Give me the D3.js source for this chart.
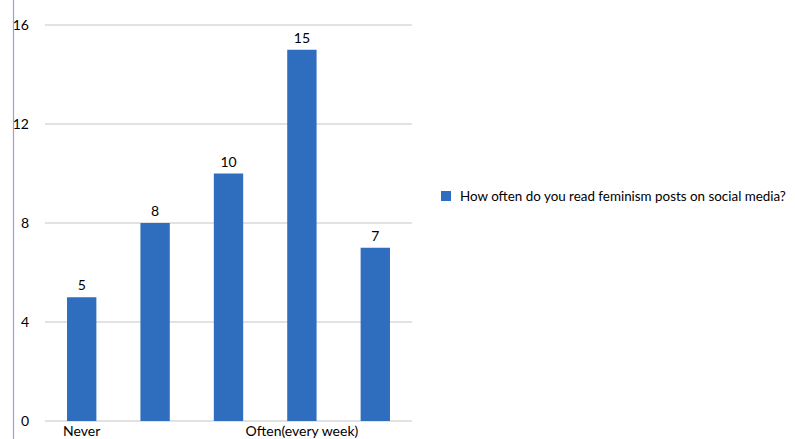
<!DOCTYPE html>
<html>
<head>
<meta charset="utf-8">
<script src="https://cdn.jsdelivr.net/npm/d3@7"></script>
<style>
  body { margin: 0; background: #fff; overflow: hidden; }
  svg { display: block; font-family: "Lato", "Noto Sans", sans-serif; }
</style>
</head>
<body>
<div id="chart"></div>
<script>
// chart data
const categories = ["Never", "Rarely", "Sometimes", "Often(every week)", "Always"];
const shownLabels = ["Never", "Often(every week)"];
const values = [5, 8, 10, 15, 7];
const yTicks = [0, 4, 8, 12, 16];
const seriesName = "How often do you read feminism posts on social media?";

const width = 795, height = 439;
const margin = { top: 25, right: 383, bottom: 18, left: 45 };
const barColor = "#2f6ebe";

const svg = d3.select("#chart")
  .append("svg")
  .attr("width", width)
  .attr("height", height);

const x = d3.scaleBand()
  .domain(categories)
  .range([margin.left, width - margin.right])
  .paddingInner(0.6)
  .paddingOuter(0.3);

const y = d3.scaleLinear()
  .domain([0, 16])
  .range([height - margin.bottom, margin.top]);

// left border line of the frame
svg.append("line")
  .attr("x1", 13.5).attr("x2", 13.5)
  .attr("y1", 0).attr("y2", height)
  .attr("stroke", "#8fa6d4")
  .attr("stroke-width", 1.2);

// gridlines
svg.append("g")
  .selectAll("line")
  .data(yTicks)
  .enter()
  .append("line")
  .attr("x1", margin.left)
  .attr("x2", width - margin.right)
  .attr("y1", d => y(d))
  .attr("y2", d => y(d))
  .attr("stroke", "#d9d9d9")
  .attr("stroke-width", 1.5);

// y tick labels
svg.append("g")
  .selectAll("text")
  .data(yTicks)
  .enter()
  .append("text")
  .attr("x", 29)
  .attr("y", d => y(d) + 5)
  .attr("text-anchor", "end")
  .attr("font-size", 14)
  .attr("fill", "#000")
  .text(d => d);

// bars
svg.append("g")
  .selectAll("rect")
  .data(values)
  .enter()
  .append("rect")
  .attr("x", (d, i) => x(categories[i]))
  .attr("y", d => y(d))
  .attr("width", x.bandwidth())
  .attr("height", d => y(0) - y(d))
  .attr("fill", barColor);

// value labels
svg.append("g")
  .selectAll("text")
  .data(values)
  .enter()
  .append("text")
  .attr("x", (d, i) => x(categories[i]) + x.bandwidth() / 2)
  .attr("y", d => y(d) - 7)
  .attr("text-anchor", "middle")
  .attr("font-size", 14)
  .attr("fill", "#000")
  .text(d => d);

// category labels (only some are visible in the original)
svg.append("g")
  .selectAll("text")
  .data(categories.filter(c => shownLabels.includes(c)))
  .enter()
  .append("text")
  .attr("x", d => x(d) + x.bandwidth() / 2)
  .attr("y", height - 3)
  .attr("text-anchor", "middle")
  .attr("font-size", 14)
  .attr("fill", "#000")
  .text(d => d);

// legend
const legend = svg.append("g").attr("transform", "translate(441, 191)");
legend.append("rect")
  .attr("width", 10).attr("height", 10)
  .attr("fill", barColor);
legend.append("text")
  .attr("x", 19)
  .attr("y", 10)
  .attr("font-size", 13.4)
  .attr("fill", "#000")
  .text(seriesName);
</script>
</body>
</html>
